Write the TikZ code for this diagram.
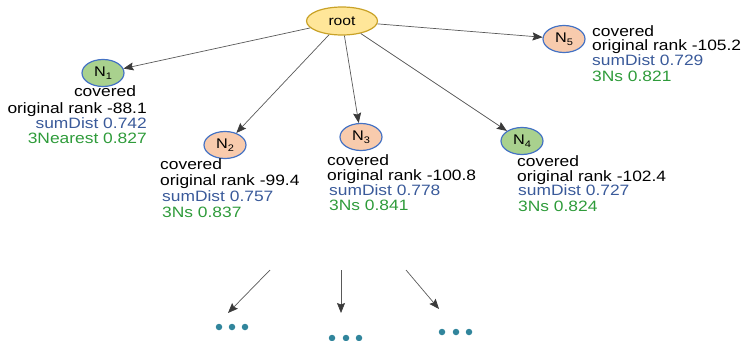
\documentclass[tikz,border=0pt]{standalone}
\usepackage{fontspec}
\setmainfont{Liberation Sans}[FakeStretch=1.16]
\usetikzlibrary{shapes.geometric,arrows.meta}
\definecolor{rootfill}{HTML}{FFE699}
\definecolor{rootline}{HTML}{C9A227}
\definecolor{greenfill}{HTML}{A9D18E}
\definecolor{orangefill}{HTML}{F8CBAD}
\definecolor{nodeline}{HTML}{4472C4}
\definecolor{txtblue}{HTML}{3A5A9A}
\definecolor{txtgreen}{HTML}{2E9B3A}
\definecolor{dotteal}{HTML}{31859C}
\definecolor{edgegray}{HTML}{595959}
\definecolor{tipgray}{HTML}{3A3A3A}
\tikzset{
  nd/.style={ellipse, draw=nodeline, line width=1.2pt, minimum width=42pt, minimum height=27pt, inner sep=0pt, font=\fontsize{14}{14}\selectfont},
  gnode/.style={nd, fill=greenfill},
  onode/.style={nd, fill=orangefill},
  lbl/.style={inner sep=0pt, font=\fontsize{15}{15}\selectfont},
  bl/.style={lbl, text=txtblue},
  gl/.style={lbl, text=txtgreen},
  arr/.style={draw=edgegray, line width=0.7pt, -{Stealth[length=10pt,width=8pt,inset=1.5pt,color=tipgray]}},
  dot/.style={circle, fill=dotteal, inner sep=0pt, minimum size=6.5pt}
}
\newcommand{\Nsub}[1]{N\raisebox{-0.35ex}{\fontsize{9.5}{9.5}\selectfont #1}}
\begin{document}
\begin{tikzpicture}[x=1pt,y=-1pt]
\useasboundingbox (0,0) rectangle (744,340);
% nodes
\node[ellipse, draw=rootline, fill=rootfill, line width=1.2pt, minimum width=71pt, minimum height=28pt, inner sep=0pt, font=\fontsize{13.5}{14}\selectfont] (root) at (342,21) {root};
\node[gnode] (n1) at (103,73) {\Nsub{1}};
\node[onode] (n2) at (225,145) {\Nsub{2}};
\node[onode] (n3) at (361,137) {\Nsub{3}};
\node[gnode] (n4) at (522,141) {\Nsub{4}};
\node[onode] (n5) at (564,39) {\Nsub{5}};
% edges
\draw[arr] (root) -- (n1);
\draw[arr] (root) -- (n2);
\draw[arr] (root) -- (n3);
\draw[arr] (root) -- (n4);
\draw[arr] (root) -- (n5);
% N1 labels
\node[lbl, anchor=mid] (t1a) at (105,94) {covered};
\node[lbl, anchor=mid east] (t1b) at (147,111) {original rank -88.1};
\node[bl, anchor=mid east] (t1c) at (147,126) {sumDist 0.742};
\node[gl, anchor=mid east] (t1d) at (147,141) {3Nearest 0.827};
% N2 labels
\node[lbl, anchor=mid west] (t2a) at (160,167) {covered};
\node[lbl, anchor=mid west] (t2b) at (160,183) {original rank -99.4};
\node[bl, anchor=mid west] (t2c) at (162,199) {sumDist 0.757};
\node[gl, anchor=mid west] (t2d) at (162,215) {3Ns 0.837};
% N3 labels
\node[lbl, anchor=mid west] (t3a) at (327,163) {covered};
\node[lbl, anchor=mid west] (t3b) at (327,178) {original rank -100.8};
\node[bl, anchor=mid west] (t3c) at (329,193) {sumDist 0.778};
\node[gl, anchor=mid west] (t3d) at (329,208) {3Ns 0.841};
% N4 labels
\node[lbl, anchor=mid west] (t4a) at (517,164) {covered};
\node[lbl, anchor=mid west] (t4b) at (517,179) {original rank -102.4};
\node[bl, anchor=mid west] (t4c) at (518,193) {sumDist 0.727};
\node[gl, anchor=mid west] (t4d) at (518,209) {3Ns 0.824};
% N5 labels
\node[lbl, anchor=mid west] (t5a) at (592,34) {covered};
\node[lbl, anchor=mid west] (t5b) at (592,48) {original rank -105.2};
\node[bl, anchor=mid west] (t5c) at (592,63) {sumDist 0.729};
\node[gl, anchor=mid west] (t5d) at (592,79) {3Ns 0.821};
% bottom arrows
\coordinate (s1) at (270,270);
\coordinate (e1) at (228,313);
\coordinate (s2) at (341,270);
\coordinate (e2) at (341,313);
\coordinate (s3) at (406,270);
\coordinate (e3) at (439,309);
\draw[arr] (s1) -- (e1);
\draw[arr] (s2) -- (e2);
\draw[arr] (s3) -- (e3);
% dots
\node[dot] (d11) at (219,327) {};
\node[dot] (d12) at (232,327) {};
\node[dot] (d13) at (245,327) {};
\node[dot] (d21) at (332,338) {};
\node[dot] (d22) at (346,338) {};
\node[dot] (d23) at (359,338) {};
\node[dot] (d31) at (442,332) {};
\node[dot] (d32) at (456,332) {};
\node[dot] (d33) at (469,332) {};
\end{tikzpicture}
\end{document}
